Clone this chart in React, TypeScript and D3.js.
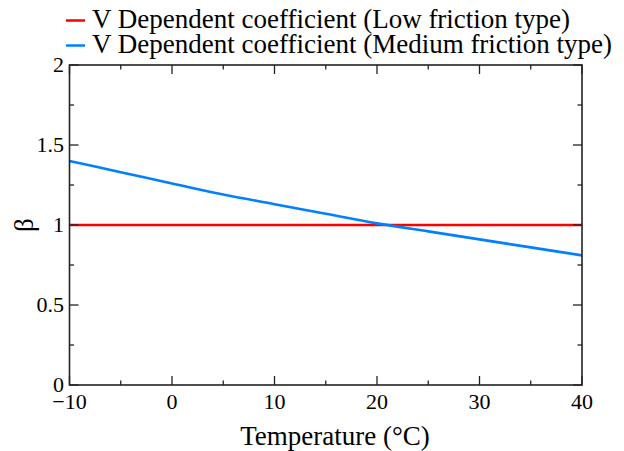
import React from "react";
import * as d3 from "d3";

const temps = [-10, -5, 0, 5, 10, 15, 20, 25, 30, 35, 40];
const lowFriction = [1, 1, 1, 1, 1, 1, 1, 1, 1, 1, 1];
const mediumFriction = [1.40, 1.33, 1.26, 1.19, 1.13, 1.07, 1.01, 0.96, 0.91, 0.86, 0.81];
const seriesNames = [
  "V Dependent coefficient (Low friction type)",
  "V Dependent coefficient (Medium friction type)",
];
const seriesColors = ["#ff0000", "#0080ff"];
const xMajorTicks = [-10, 0, 10, 20, 30, 40];
const xMinorTicks = [-5, 5, 15, 25, 35];
const yMajorTicks = [0, 0.5, 1, 1.5, 2];
const yMinorTicks = [0.25, 0.75, 1.25, 1.75];

const W = 624;
const H = 451;
const L = 69.5, R = 582, T = 65, B = 385;
const FONT = "'Liberation Serif', 'Times New Roman', serif";

export default function App() {
  const x = d3.scaleLinear().domain([-10, 40]).range([L, R]);
  const y = d3.scaleLinear().domain([0, 2]).range([B, T]);
  const line = d3
    .line<number>()
    .x((_, i) => x(temps[i]))
    .y((d) => y(d))
    .curve(d3.curveMonotoneX);
  const series = [lowFriction, mediumFriction];
  const major = 9;
  const minor = 4.5;
  const axisColor = "#222";
  const fmtY = (v: number) => (v === 0 ? "0" : String(v));
  const fmtX = (v: number) => (v < 0 ? "\u2212" + Math.abs(v) : String(v));
  return (
    <svg
      width={W}
      height={H}
      style={{ position: "absolute", left: 0, top: 0 }}
      fontFamily={FONT}
    >
      <rect width={W} height={H} fill="#fff" />
      {/* legend */}
      {seriesNames.map((name, i) => (
        <g key={name}>
          <line
            x1={66}
            x2={85}
            y1={20.5 + i * 25}
            y2={20.5 + i * 25}
            stroke={seriesColors[i]}
            strokeWidth={2.5}
          />
          <text x={92} y={28 + i * 25} fontSize={27} fill="#000">
            {name}
          </text>
        </g>
      ))}
      {/* data */}
      <g clipPath="url(#clip)">
        {series.map((s, i) => (
          <path
            key={i}
            d={line(s) || ""}
            fill="none"
            stroke={seriesColors[i]}
            strokeWidth={2.6}
          />
        ))}
      </g>
      <defs>
        <clipPath id="clip">
          <rect x={L} y={T} width={R - L} height={B - T} />
        </clipPath>
      </defs>
      {/* frame */}
      <rect
        x={L}
        y={T}
        width={R - L}
        height={B - T}
        fill="none"
        stroke={axisColor}
        strokeWidth={1.6}
      />
      {/* x ticks */}
      {xMajorTicks.map((v) => (
        <g key={"xm" + v}>
          <line x1={x(v)} x2={x(v)} y1={B} y2={B - major} stroke={axisColor} strokeWidth={1.3} />
          <line x1={x(v)} x2={x(v)} y1={T} y2={T + major} stroke={axisColor} strokeWidth={1.3} />
          <text
            x={x(v)}
            y={409}
            textAnchor="middle"
            fontSize={22}
            fill="#000"
          >
            {fmtX(v)}
          </text>
        </g>
      ))}
      {xMinorTicks.map((v) => (
        <g key={"xn" + v}>
          <line x1={x(v)} x2={x(v)} y1={B} y2={B - minor} stroke={axisColor} strokeWidth={1.3} />
          <line x1={x(v)} x2={x(v)} y1={T} y2={T + minor} stroke={axisColor} strokeWidth={1.3} />
        </g>
      ))}
      {/* y ticks */}
      {yMajorTicks.map((v) => (
        <g key={"ym" + v}>
          <line x1={L} x2={L + major} y1={y(v)} y2={y(v)} stroke={axisColor} strokeWidth={1.3} />
          <line x1={R} x2={R - major} y1={y(v)} y2={y(v)} stroke={axisColor} strokeWidth={1.3} />
          <text
            x={64}
            y={y(v) + 7}
            textAnchor="end"
            fontSize={22}
            fill="#000"
          >
            {fmtY(v)}
          </text>
        </g>
      ))}
      {yMinorTicks.map((v) => (
        <g key={"yn" + v}>
          <line x1={L} x2={L + minor} y1={y(v)} y2={y(v)} stroke={axisColor} strokeWidth={1.3} />
          <line x1={R} x2={R - minor} y1={y(v)} y2={y(v)} stroke={axisColor} strokeWidth={1.3} />
        </g>
      ))}
      {/* axis titles */}
      <text
        x={335}
        y={445}
        textAnchor="middle"
        fontSize={27}
        fill="#000"
      >
        Temperature (°C)
      </text>
      <text
        transform={`translate(33, ${y(1)}) rotate(-90)`}
        textAnchor="middle"
        fontSize={27}
        fill="#000"
      >
        β
      </text>
    </svg>
  );
}
